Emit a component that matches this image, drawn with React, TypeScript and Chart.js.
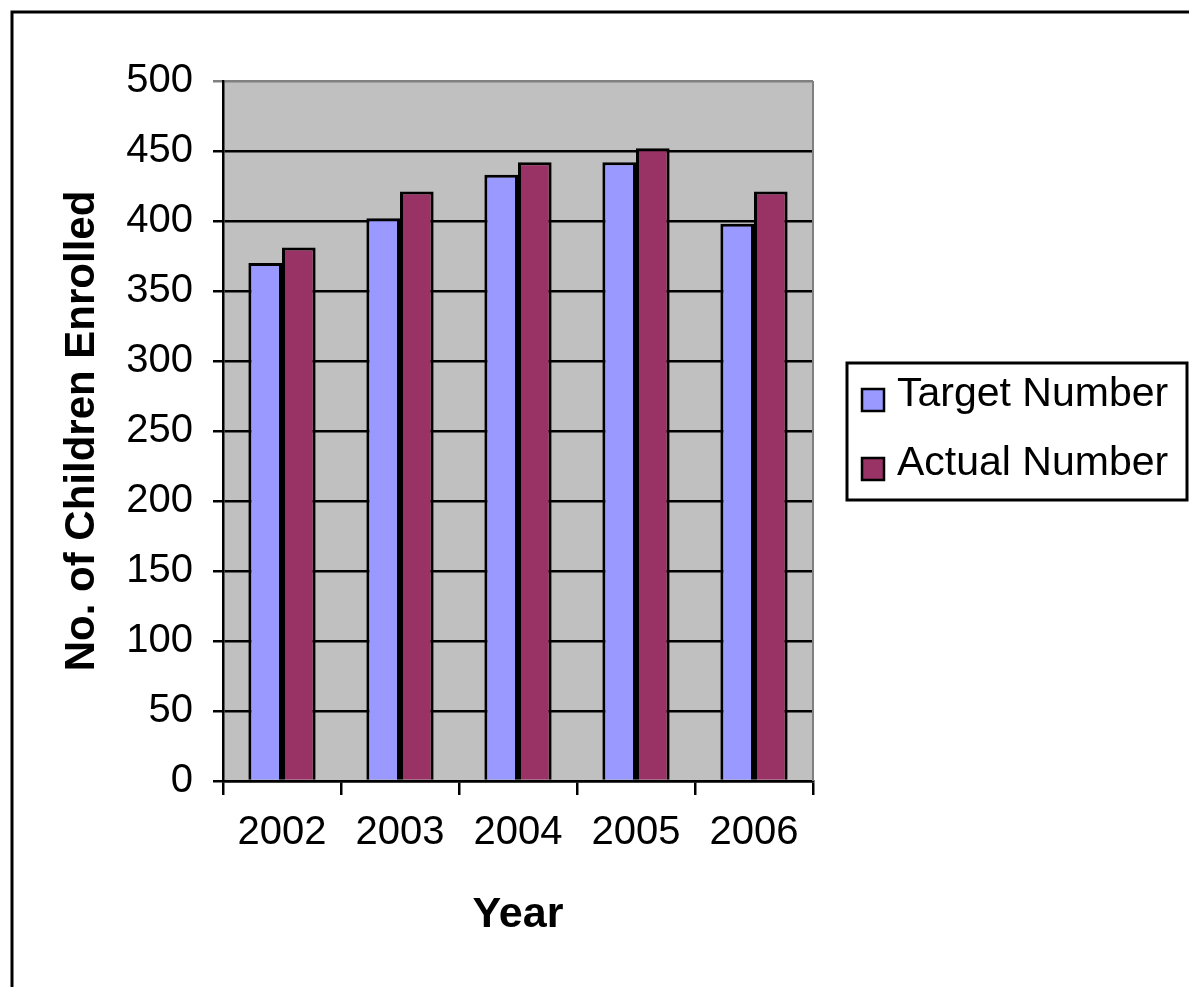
import React, { useEffect, useRef } from "react";
import { Chart, registerables } from "chart.js";

Chart.register(...registerables);

const years = ["2002", "2003", "2004", "2005", "2006"];
const targetNumbers = [370, 402, 433, 442, 398];
const actualNumbers = [381, 421, 442, 452, 421];
const seriesNames = ["Target Number", "Actual Number"];
const yAxisTitle = "No. of Children Enrolled";
const xAxisTitle = "Year";

const FONT = "'Liberation Sans', Arial, sans-serif";

const framePlugin = {
  id: "frame",
  beforeDraw(chart: any) {
    const { ctx, chartArea: a } = chart;
    ctx.save();
    ctx.fillStyle = "#ffffff";
    ctx.fillRect(0, 0, chart.width, chart.height);
    ctx.fillStyle = "#C0C0C0";
    ctx.fillRect(a.left, a.top, a.right - a.left, a.bottom - a.top);
    ctx.restore();
  },
  beforeDatasetsDraw(chart: any) {
    const { ctx, chartArea: a } = chart;
    ctx.save();
    ctx.strokeStyle = "#808080";
    ctx.lineWidth = 2;
    ctx.beginPath();
    ctx.moveTo(a.right, a.top);
    ctx.lineTo(a.right, a.bottom);
    ctx.stroke();
    ctx.restore();
  },
  afterDraw(chart: any) {
    const { ctx } = chart;
    ctx.save();
    // outer frame
    ctx.strokeStyle = "#000";
    ctx.lineWidth = 3;
    ctx.strokeRect(12, 12, chart.width + 50, chart.height + 50);
    // legend
    const bx = 847, by = 363, bw = 340, bh = 137;
    ctx.lineWidth = 3;
    ctx.strokeRect(bx, by, bw, bh);
    ctx.font = `41px ${FONT}`;
    ctx.textBaseline = "middle";
    ctx.textAlign = "left";
    chart.data.datasets.forEach((ds: any, i: number) => {
      const cy = 395 + i * 69;
      ctx.fillStyle = ds.backgroundColor;
      ctx.fillRect(862, cy - 6, 22, 22);
      ctx.strokeStyle = "#000";
      ctx.lineWidth = 2.5;
      ctx.strokeRect(862, cy - 6, 22, 22);
      ctx.fillStyle = "#000";
      ctx.fillText(ds.label, 897, cy);
    });
    ctx.restore();
  },
};

export default function App() {
  const ref = useRef<HTMLCanvasElement | null>(null);
  useEffect(() => {
    if (!ref.current) return;
    const chart = new Chart(ref.current, {
      type: "bar",
      data: {
        labels: years,
        datasets: [
          {
            label: seriesNames[0],
            data: targetNumbers,
            backgroundColor: "#9999FF",
            borderColor: "#000000",
            borderWidth: 3,
            borderSkipped: "bottom",
          },
          {
            label: seriesNames[1],
            data: actualNumbers,
            backgroundColor: "#993366",
            borderColor: "#000000",
            borderWidth: 3,
            borderSkipped: "bottom",
          },
        ],
      },
      options: {
        animation: false,
        responsive: false,
        maintainAspectRatio: false,
        datasets: { bar: { categoryPercentage: 0.57, barPercentage: 1 } },
        layout: { padding: { left: 0, right: 376, top: 81, bottom: 0 } },
        plugins: { legend: { display: false }, tooltip: { enabled: false } },
        scales: {
          x: {
            grid: {
              display: true,
              drawOnChartArea: false,
              drawTicks: true,
              tickLength: 14,
              color: "#000",
              lineWidth: 2.5,
              offset: true,
            },
            border: { display: true, color: "#000", width: 2.5 },
            ticks: {
              color: "#000",
              font: { family: FONT, size: 40 },
              padding: 14,
              maxRotation: 0,
            },
            title: {
              display: true,
              text: xAxisTitle,
              color: "#000",
              font: { family: FONT, size: 43, weight: "bold" },
              padding: { top: 0, bottom: 46 },
            },
            afterFit(scale: any) {
              scale.height = 206;
            },
          },
          y: {
            min: 0,
            max: 500,
            ticks: {
              stepSize: 50,
              color: "#000",
              font: { family: FONT, size: 40 },
              padding: 20,
            },
            grid: {
              color: (c: any) => (c.tick && c.tick.value === 500 ? "#808080" : "#000"),
              lineWidth: 2.5,
              drawTicks: true,
              tickLength: 10,
            },
            border: { display: true, color: "#000", width: 2.5 },
            title: {
              display: true,
              text: yAxisTitle,
              color: "#000",
              font: { family: FONT, size: 42, weight: "bold" },
              padding: { top: 57, bottom: 0 },
            },
            afterFit(scale: any) {
              scale.width = 223;
            },
          },
        },
      },
      plugins: [framePlugin],
    });
    return () => chart.destroy();
  }, []);
  return (
    <div style={{ position: "absolute", left: 0, top: 0, width: 1189, height: 987, overflow: "hidden" }}>
      <canvas ref={ref} width={1189} height={987} style={{ display: "block" }} />
    </div>
  );
}
